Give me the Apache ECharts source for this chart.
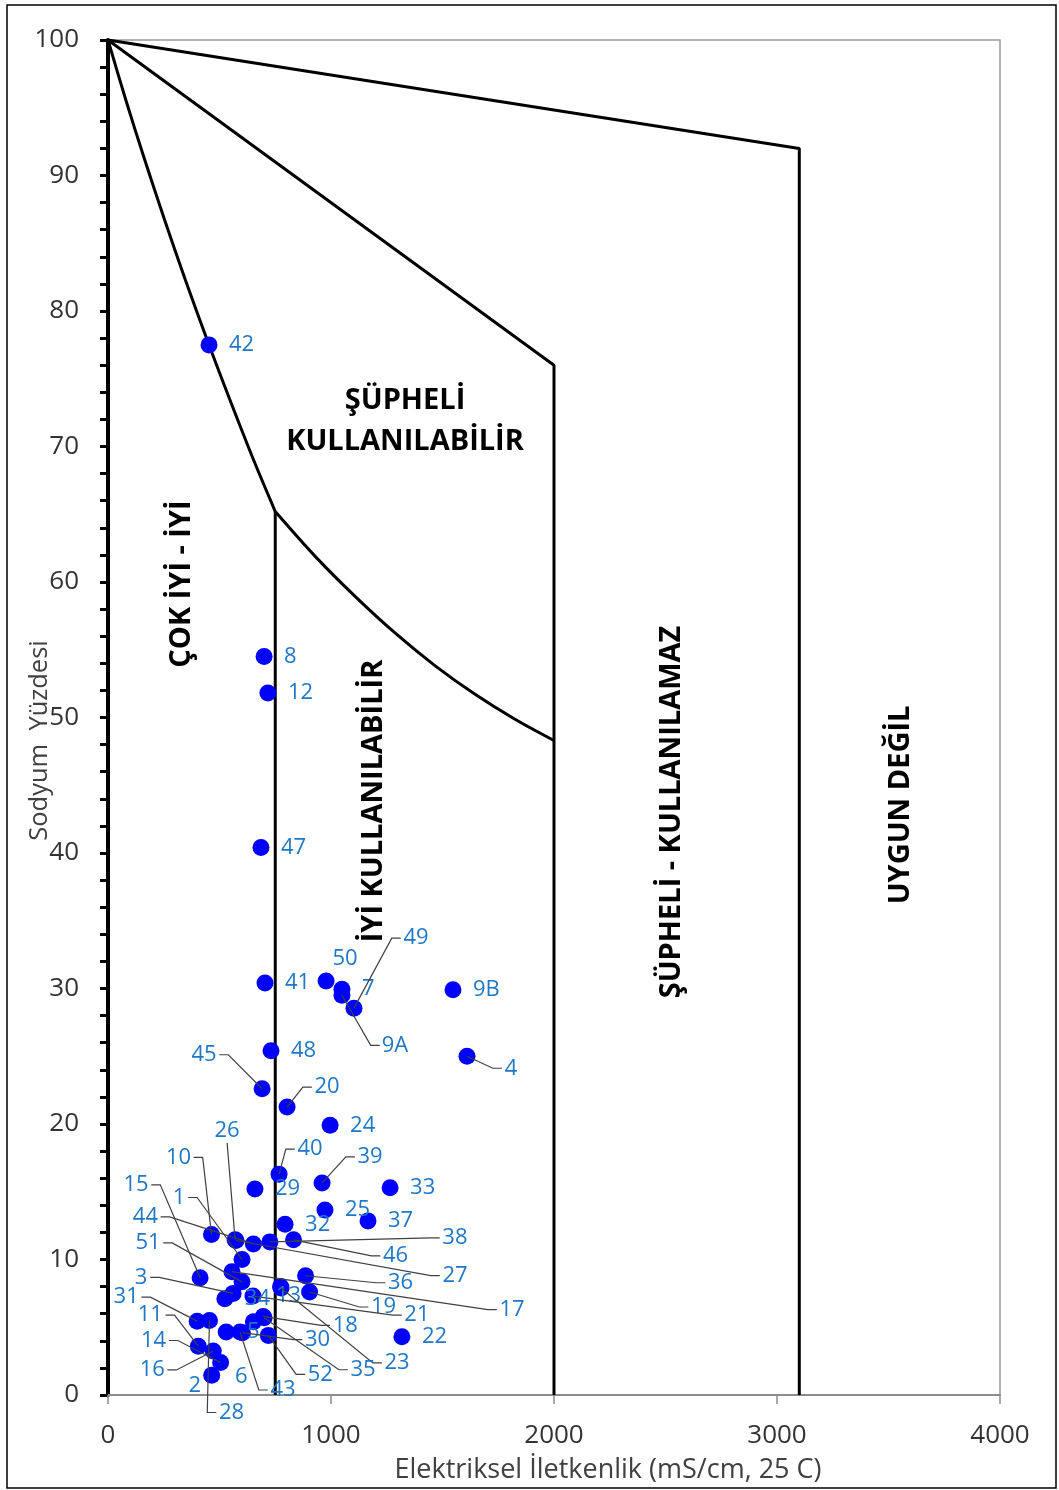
<!DOCTYPE html>
<html>
<head>
<meta charset="utf-8">
<script src="https://cdn.jsdelivr.net/npm/echarts@6/dist/echarts.min.js"></script>
<style>
html,body{margin:0;padding:0;background:#fff;}
#chart{width:1059px;height:1490px;}
</style>
</head>
<body>
<div id="chart"></div>
<script>
// ---------------- DATA ----------------
const sampleNames = ['1','2','3','4','5','6','7','8','9A','9B','10','11','12','13','14','15','16','17','18','19','20','21','22','23','24','25','26','27','28','29','30','31','32','33','34','35','36','37','38','39','40','41','42','43','44','45','46','47','48','49','50','51','52'];
// Elektriksel iletkenlik (x)
const ecValues = [601,465,561,1610,652,530,1049,700,1049,1547,464,405,717,774,505,413,472,556,696,904,803,650,1318,776,996,973,570,574,455,659,603,400,794,1265,524,700,886,1166,726,960,767,704,453,592,652,691,832,686,731,1103,978,601,719];
// Sodyum yüzdesi (y)
const naValues = [10.0,1.45,7.5,25.0,5.4,4.65,29.95,54.5,29.5,29.9,11.85,3.6,51.8,8.0,2.4,8.65,3.25,9.1,5.8,7.6,21.25,7.3,4.3,7.9,19.9,13.65,11.45,11.4,5.5,15.2,4.6,5.45,12.6,15.3,7.1,5.7,8.8,12.85,11.3,15.65,16.3,30.4,77.5,4.65,11.15,22.6,11.45,40.4,25.4,28.55,30.55,8.35,4.4];

const xTicks = [0,1000,2000,3000,4000];
const yTicks = [0,10,20,30,40,50,60,70,80,90,100];

// Class boundaries of the diagram
const outerBoundX = [0,3100,3100];
const outerBoundY = [100,92,0];
const midBoundX = [0,2000,2000];
const midBoundY = [100,76,0];
const curve1X = [0,80,165,254,347,453,547,653,750];
const curve1Y = [100,95.57,91.14,86.72,82.29,77.49,73.43,69.0,65.2];
const vert750X = [750,750];
const vert750Y = [65.2,0];
const curve2X = [750,928,1108,1287,1466,1646,1825,2000];
const curve2Y = [65.2,61.91,58.94,56.24,53.83,51.71,49.87,48.3];

const zoneTexts = ['ÇOK İYİ - İYİ','ŞÜPHELİ','KULLANILABİLİR','İYİ KULLANILABİLİR','ŞÜPHELİ - KULLANILAMAZ','UYGUN DEĞİL'];

// ---------------- LAYOUT / STYLE (label placement in px, not data) ----------------
// [dx, dy, leader] : label centre offset from the point; default = right of point
const labelPlacement = {
  '49':[62,-70,1], '9A':[53,50,1], '4':[44,12,1], '45':[-58,-34,1], '20':[40,-20,1],
  '26':[-8,-109,1], '40':[31,-25,1], '39':[48,-26,1], '10':[-33,-77,1], '15':[-64,-93,1],
  '1':[-63,-62,1], '44':[-108,-27,1], '38':[185,-4,1], '51':[-94,-39,1], '46':[102,16,1],
  '27':[219,35,1], '3':[-92,-16,1], '36':[95,7,1], '31':[-71,-24,1], '17':[280,38,1],
  '19':[74,15,1], '21':[164,19,1], '11':[-48,-31,1], '18':[82,9,1], '14':[-67,-22,1],
  '30':[75,7,1], '16':[-61,19,1], '23':[116,75,1], '35':[99,52,1], '52':[52,39,1],
  '43':[43,58,1], '28':[22,92,1],
  '2':[-17,10,0], '6':[15,45,0], '5':[0,10,0], '13':[8,9,0], '50':[19,-22,0]
};
const LABEL_COLOR = '#1F77C6';
const LABEL_FONT_SIZE = 22;
const FONT = 'Open Sans';

function linePairs(xs, ys){ return xs.map((x,i)=>[x, ys[i]]); }
const points = ecValues.map((x,i)=>[x, naValues[i]]);

function renderLabel(params, api){
  const i = params.dataIndex;
  const p = api.coord([api.value(0), api.value(1)]);
  const name = sampleNames[i];
  const pl = labelPlacement[name];
  const w = name.length * 12.2;
  const children = [];
  const txtStyle = {text:name, fill:LABEL_COLOR, fontSize:LABEL_FONT_SIZE, fontFamily:FONT, verticalAlign:'middle'};
  if(!pl){
    children.push({type:'text', x:p[0]+20, y:p[1], style:Object.assign({align:'left'}, txtStyle)});
    return {type:'group', children};
  }
  const cx = p[0]+pl[0], cy = p[1]+pl[1];
  if(pl[2]){
    const hw = w/2;
    let pts;
    if(Math.abs(pl[0]) > hw + 4){
      const sx = pl[0] > 0 ? cx - hw - 3 : cx + hw + 3;
      const ex = pl[0] > 0 ? sx - 9 : sx + 9;
      pts = [[sx,cy],[ex,cy],[p[0],p[1]]];
    } else {
      const sy = pl[1] < 0 ? cy + 12 : cy - 12;
      pts = [[cx,sy],[p[0],p[1]]];
    }
    children.push({type:'polyline', shape:{points:pts}, style:{stroke:'#404040', lineWidth:1.2, fill:null}});
  }
  children.push({type:'text', x:cx, y:cy, style:Object.assign({align:'center'}, txtStyle)});
  return {type:'group', children};
}

function boundary(xs, ys, smooth){
  return {type:'line', data:linePairs(xs,ys), smooth:smooth?0.3:false, symbol:'none', silent:true, z:1,
    lineStyle:{color:'#000', width:3}};
}

const chart = echarts.init(document.getElementById('chart'), null, {renderer:'canvas'});
const zoneStyle = {fill:'#000', fontSize:29, fontWeight:'bold', fontFamily:FONT, align:'center', verticalAlign:'middle'};
chart.setOption({
  animation:false,
  backgroundColor:'#fff',
  grid:{left:108, right:59, top:40, bottom:95, show:true, borderColor:'#9a9a9a', borderWidth:1.5,
    containLabel:false, outerBoundsMode:'none'},
  xAxis:{
    type:'value', min:xTicks[0], max:xTicks[xTicks.length-1], interval:1000,
    name:'Elektriksel İletkenlik (mS/cm, 25 C)', nameLocation:'middle', nameGap:62, nameMoveOverlap:false,
    nameTextStyle:{fontSize:27, fontFamily:FONT, color:'#404040', padding:[0,0,0,108]},
    axisLine:{lineStyle:{color:'#8c8c8c', width:2}},
    axisTick:{show:true, length:9, lineStyle:{color:'#8c8c8c', width:1.5}},
    axisLabel:{fontSize:26, fontFamily:FONT, color:'#333', margin:28, formatter:v=>String(v)},
    splitLine:{show:false}
  },
  yAxis:{
    type:'value', min:yTicks[0], max:yTicks[yTicks.length-1], interval:10,
    name:'Sodyum  Yüzdesi', nameLocation:'middle', nameGap:55, nameRotate:90, nameMoveOverlap:false,
    nameTextStyle:{fontSize:25.5, fontFamily:FONT, color:'#404040', padding:[0,46,0,0]},
    axisLine:{lineStyle:{color:'#000', width:4}},
    axisTick:{show:true, length:8, lineStyle:{color:'#000', width:3}},
    minorTick:{show:true, splitNumber:5, length:8, lineStyle:{color:'#000', width:3}},
    axisLabel:{fontSize:26, fontFamily:FONT, color:'#333', margin:29, formatter:v=>String(v)},
    splitLine:{show:false}
  },
  graphic:[
    {type:'rect', shape:{x:7, y:5, width:1049, height:1483}, style:{fill:null, stroke:'#000', lineWidth:1.5}, silent:true},
    {type:'text', x:182, y:584, rotation:Math.PI/2, style:Object.assign({text:zoneTexts[0]}, zoneStyle)},
    {type:'text', x:405, y:401, style:Object.assign({text:zoneTexts[1]}, zoneStyle)},
    {type:'text', x:405, y:442, style:Object.assign({text:zoneTexts[2]}, zoneStyle)},
    {type:'text', x:374, y:801, rotation:Math.PI/2, style:Object.assign({text:zoneTexts[3]}, zoneStyle)},
    {type:'text', x:672, y:812, rotation:Math.PI/2, style:Object.assign({text:zoneTexts[4]}, zoneStyle)},
    {type:'text', x:901, y:805, rotation:Math.PI/2, style:Object.assign({text:zoneTexts[5]}, zoneStyle)}
  ],
  series:[
    boundary(outerBoundX, outerBoundY, false),
    boundary(midBoundX, midBoundY, false),
    boundary(curve1X, curve1Y, true),
    boundary(vert750X, vert750Y, false),
    boundary(curve2X, curve2Y, true),
    {type:'scatter', data:points, symbol:'circle', symbolSize:17, z:2, silent:true,
      itemStyle:{color:'#0000FF', opacity:1}},
    {type:'custom', data:points, renderItem:renderLabel, z:3, silent:true, clip:false,
      encode:{x:0, y:1}}
  ]
});
</script>
</body>
</html>
